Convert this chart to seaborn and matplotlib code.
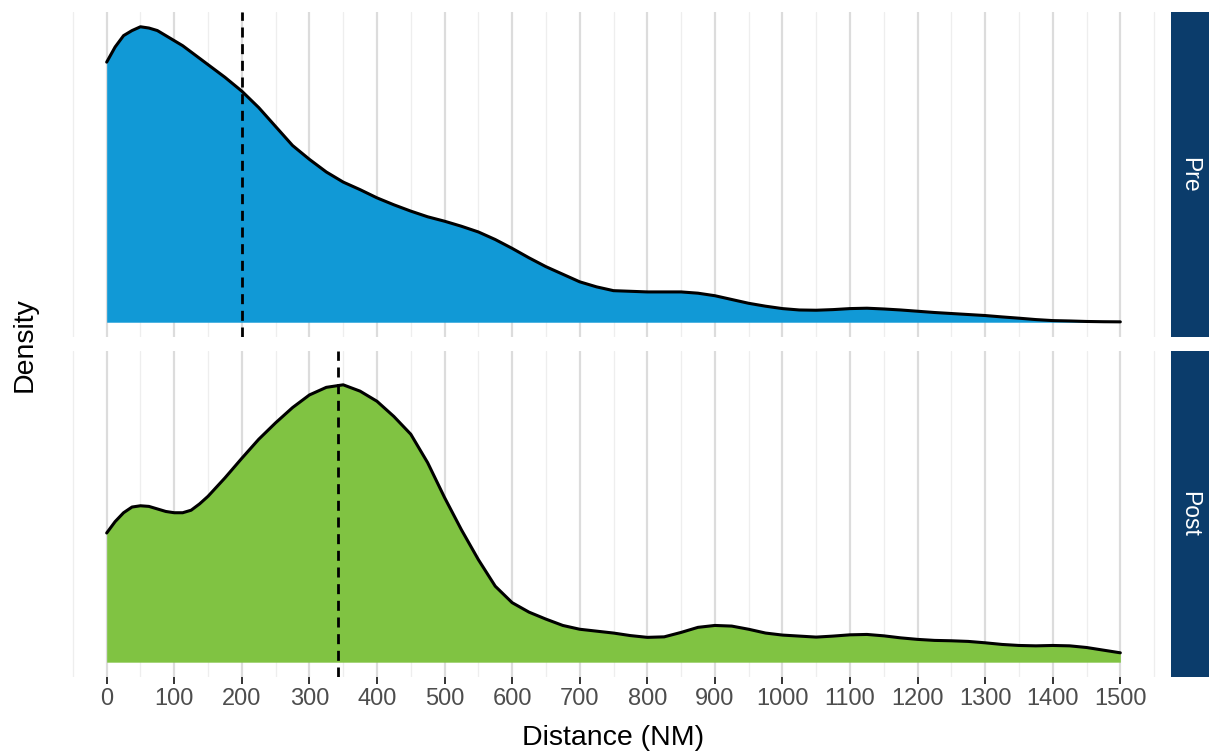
import pandas as pd
import matplotlib
matplotlib.use("Agg")
import matplotlib.pyplot as plt
import seaborn as sns

# distance grid (NM) and density values (x 1e-3)
distance = [0, 12.5, 25, 37.5, 50, 62.5, 75, 87.5, 100, 112.5, 125, 137.5, 150,
            175, 200, 225, 250, 275, 300, 325, 350, 375, 400, 425, 450, 475, 500,
            525, 550, 575, 600, 625, 650, 675, 700, 725, 750, 775, 800, 825, 850,
            875, 900, 925, 950, 975, 1000, 1025, 1050, 1075, 1100, 1125, 1150,
            1175, 1200, 1225, 1250, 1275, 1300, 1325, 1350, 1375, 1400, 1425,
            1450, 1475, 1500]

density_pre = [2.06, 2.18, 2.27, 2.31, 2.34, 2.33, 2.31, 2.27, 2.23, 2.19, 2.14,
               2.09, 2.04,
               1.94, 1.83, 1.70, 1.55, 1.40, 1.29, 1.19, 1.11, 1.05, 0.985, 0.93,
               0.88, 0.835, 0.80, 0.76, 0.715, 0.655, 0.585, 0.51, 0.44, 0.38,
               0.32,
               0.28, 0.25, 0.245, 0.24, 0.24, 0.24, 0.23, 0.21, 0.18, 0.15, 0.127,
               0.108, 0.097, 0.095, 0.100, 0.108, 0.111, 0.105, 0.097, 0.087,
               0.077, 0.069, 0.061, 0.053, 0.042, 0.032, 0.021, 0.013, 0.010,
               0.006, 0.004, 0.003]

density_post = [1.02, 1.11, 1.18, 1.225, 1.235, 1.23, 1.21, 1.19, 1.18, 1.18,
                1.20, 1.25, 1.31,
                1.455, 1.61, 1.76, 1.89, 2.01, 2.11, 2.17, 2.19, 2.14, 2.06, 1.94,
                1.80, 1.575, 1.30, 1.045, 0.81, 0.60, 0.47, 0.395, 0.34, 0.29,
                0.26,
                0.245, 0.23, 0.21, 0.196, 0.20, 0.235, 0.275, 0.29, 0.285, 0.26,
                0.23, 0.214, 0.206, 0.198, 0.206, 0.216, 0.219, 0.208, 0.192,
                0.18, 0.172, 0.169, 0.164, 0.153, 0.14, 0.132, 0.129, 0.132,
                0.129, 0.116, 0.095, 0.074]

periods = ["Pre", "Post"]
medians = [200, 343]
fill_colors = ["#1199d6", "#80c342"]
x_ticks = list(range(0, 1501, 100))

df = pd.concat([
    pd.DataFrame({"period": "Pre", "distance": distance, "density": density_pre}),
    pd.DataFrame({"period": "Post", "distance": distance, "density": density_post}),
])

sns.set_theme(style="white")
plt.rcParams["font.family"] = ["Liberation Sans", "DejaVu Sans"]

W, H = 1209, 753
fig = plt.figure(figsize=(W / 100, H / 100), dpi=100)

panels = {"Pre": (12, 337), "Post": (351, 677)}
left_px, right_px, strip_right = 56, 1171, 1209
ymax = max(df["density"])

for period, median, color in zip(periods, medians, fill_colors):
    top, bot = panels[period]
    ax = fig.add_axes([left_px / W, 1 - bot / H, (right_px - left_px) / W, (bot - top) / H])
    sub = df[df["period"] == period]

    ax.fill_between(sub["distance"], 0, sub["density"], color=color, linewidth=0, zorder=2)
    sns.lineplot(data=sub, x="distance", y="density", color="black", linewidth=2.2,
                 ax=ax, zorder=3)
    ax.axvline(median, color="black", linewidth=2.0, dashes=(3.6, 2.4), zorder=4)

    ax.set_xlim(-75, 1575)
    ax.set_ylim(-0.05 * ymax, 1.05 * ymax)
    ax.set_xticks(x_ticks)
    ax.set_xticks(list(range(-50, 1600, 100)), minor=True)
    ax.grid(axis="x", which="major", color="#dcdcdc", linewidth=1.6, zorder=0)
    ax.grid(axis="x", which="minor", color="#eeeeee", linewidth=0.9, zorder=0)
    ax.grid(axis="y", visible=False)
    ax.set_axisbelow(True)
    ax.set_yticks([])
    ax.set_ylabel("")
    for s in ax.spines.values():
        s.set_visible(False)

    if period == "Post":
        ax.tick_params(axis="x", which="major", bottom=True, length=5, width=1.4,
                       color="#333333", labelsize=17, labelcolor="#4d4d4d", pad=3)
        ax.tick_params(axis="x", which="minor", bottom=False)
        ax.set_xlabel("Distance (NM)", fontsize=20.5, color="black", labelpad=11)
    else:
        ax.tick_params(axis="x", which="both", bottom=False, labelbottom=False)
        ax.set_xlabel("")

    sax = fig.add_axes([right_px / W, 1 - bot / H, (strip_right - right_px) / W, (bot - top) / H])
    sax.set_facecolor("#0b3c6b")
    sax.set_xticks([])
    sax.set_yticks([])
    for s in sax.spines.values():
        s.set_visible(False)
    sax.text(0.5, 0.5, period, rotation=-90, color="white", fontsize=16.5,
             ha="center", va="center", transform=sax.transAxes)

fig.text(25 / W, 1 - 344.5 / H, "Density", rotation=90, fontsize=20.5,
         ha="center", va="center", color="black")

fig.savefig("out.png", dpi=100, facecolor="white")
